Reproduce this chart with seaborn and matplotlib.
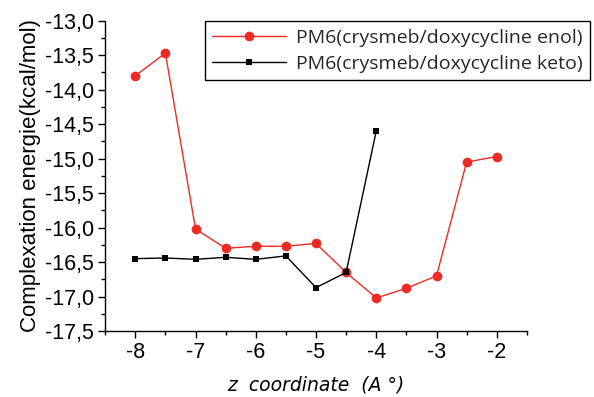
import pandas as pd
import matplotlib
matplotlib.use('Agg')
import matplotlib.pyplot as plt
import seaborn as sns
from matplotlib.ticker import MultipleLocator, FuncFormatter
from matplotlib.lines import Line2D

sns.set_style('ticks')
plt.rcParams['font.family'] = ['Liberation Sans', 'DejaVu Sans']

# data
z_enol = [-8, -7.5, -7, -6.5, -6, -5.5, -5, -4.5, -4, -3.5, -3, -2.5, -2]
e_enol = [-13.80, -13.47, -16.02, -16.30, -16.27, -16.27, -16.23, -16.65, -17.02, -16.88, -16.70, -15.05, -14.97]
z_keto = [-8, -7.5, -7, -6.5, -6, -5.5, -5, -4.5, -4]
e_keto = [-16.45, -16.44, -16.46, -16.43, -16.46, -16.41, -16.87, -16.65, -14.60]
lab_enol = 'PM6(crysmeb/doxycycline enol)'
lab_keto = 'PM6(crysmeb/doxycycline keto)'
red = '#ee2a24'

enol = pd.DataFrame({'z': z_enol, 'E': e_enol})
keto = pd.DataFrame({'z': z_keto, 'E': e_keto})

fig = plt.figure(figsize=(5.94, 3.97), dpi=100)
ax = fig.add_axes([0.177, 0.166, 0.71, 0.782])

sns.lineplot(data=enol, x='z', y='E', color=red, marker='o', markersize=7,
             markeredgewidth=0, linewidth=1, ax=ax)
sns.lineplot(data=keto, x='z', y='E', color='black', marker='s', markersize=5,
             markeredgewidth=0, linewidth=1, ax=ax)

ax.set_xlim(-8.5, -1.5)
ax.set_ylim(-17.5, -13.0)
ax.xaxis.set_major_locator(MultipleLocator(1))
ax.xaxis.set_minor_locator(MultipleLocator(0.5))
ax.yaxis.set_major_locator(MultipleLocator(0.5))
ax.yaxis.set_minor_locator(MultipleLocator(0.25))
ax.yaxis.set_major_formatter(FuncFormatter(lambda v, p: f'{v:.1f}'.replace('.', ',')))
ax.xaxis.set_major_formatter(FuncFormatter(lambda v, p: f'{v:.0f}'))
ax.tick_params(which='major', length=5, width=1, labelsize=15.5, color='black',
               labelcolor='black', pad=3)
ax.tick_params(which='minor', length=3, width=1, color='black')
for s in ['top', 'right']:
    ax.spines[s].set_visible(False)
for s in ['left', 'bottom']:
    ax.spines[s].set_color('black')
    ax.spines[s].set_linewidth(1)

ax.set_ylabel('Complexation energie(kcal/mol)', fontsize=16, color='black', labelpad=3)
ax.set_xlabel('z  coordinate  (A °)', fontsize=13.5, style='italic', color='black',
              labelpad=9, family=['DejaVu Sans'])

handles = [Line2D([], [], color=red, marker='o', markersize=7, markeredgewidth=0, lw=1),
           Line2D([], [], color='black', marker='s', markersize=5, markeredgewidth=0, lw=1)]
leg = fig.legend(handles, [lab_enol, lab_keto], loc='upper right',
                 bbox_to_anchor=(0.994, 0.947), frameon=True, fancybox=False,
                 edgecolor='black', framealpha=1, handlelength=3.8,
                 prop={'family': 'Open Sans', 'size': 14}, borderpad=0.4,
                 labelspacing=0.4, handletextpad=0.5, borderaxespad=0)
leg.get_frame().set_linewidth(1)

plt.savefig('out.png', dpi=100)
